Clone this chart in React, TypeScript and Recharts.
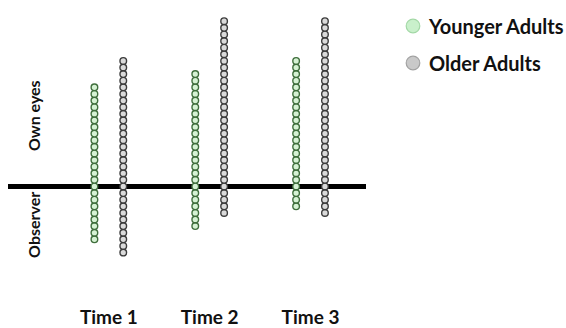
import { Legend, ReferenceLine, Scatter, ScatterChart, XAxis, YAxis } from "recharts";

const times = ["Time 1", "Time 2", "Time 3"];
// dots above the line (own eyes) and below it (observer), one column per group
const youngerOwnEyes = [15, 17, 19];
const youngerObserver = [8, 6, 3];
const olderOwnEyes = [19, 25, 25];
const olderObserver = [10, 4, 4];
const sideLabels = [
  { value: 10.7, text: "Own eyes" },
  { value: -5.8, text: "Observer" },
];

const FONT = "Lato, 'Open Sans', sans-serif";
const SHIFT = 0.143;

const buildColumn = (own: number[], obs: number[], side: number) =>
  own.flatMap((up, i) => {
    const pts: { x: number; y: number }[] = [];
    for (let k = -obs[i]; k <= up; k++) pts.push({ x: i + 1 + side * SHIFT, y: k });
    return pts;
  });

const youngerData = buildColumn(youngerOwnEyes, youngerObserver, -1);
const olderData = buildColumn(olderOwnEyes, olderObserver, 1);

const dot = (fill: string, stroke: string) => (props: any) => (
  <circle cx={props.cx} cy={props.cy} r={3.3} fill={fill} stroke={stroke} strokeWidth={1.4} />
);

const SideTick = (props: any) => {
  const label = sideLabels.find((s) => s.value === props.payload.value);
  return (
    <text
      x={34}
      y={props.y}
      transform={`rotate(-90, 34, ${props.y})`}
      textAnchor="middle"
      dominantBaseline="central"
      fontFamily={FONT}
      fontWeight={700}
      fontSize={16}
      fill="#111"
    >
      {label ? label.text : ""}
    </text>
  );
};

const legendItems = [
  { name: "Younger Adults", fill: "#c9f0cb", stroke: "#a3d8a6" },
  { name: "Older Adults", fill: "#c9c9c9", stroke: "#a2a2a2" },
];

const LegendBox = () => (
  <div style={{ fontFamily: FONT, fontWeight: 700, fontSize: 20, color: "#111" }}>
    {legendItems.map((it) => (
      <div key={it.name} style={{ display: "flex", alignItems: "center", height: 37 }}>
        <svg width={16} height={16} style={{ marginRight: 8 }}>
          <circle cx={8} cy={8} r={6.8} fill={it.fill} stroke={it.stroke} strokeWidth={1.2} />
        </svg>
        <span>{it.name}</span>
      </div>
    ))}
  </div>
);

export default function App() {
  return (
    <div style={{ position: "absolute", left: 0, top: 0, background: "#fff" }}>
      <ScatterChart width={566} height={328} margin={{ top: 8, right: 200, bottom: 0, left: 0 }}>
        <XAxis
          type="number"
          dataKey="x"
          domain={[0, 3.55]}
          ticks={[1, 2, 3]}
          tickFormatter={(v) => times[v - 1]}
          axisLine={false}
          tickLine={false}
          tickMargin={26}
          height={49}
          tick={{ fontFamily: FONT, fontWeight: 700, fontSize: 19, fill: "#111" }}
        />
        <YAxis
          type="number"
          dataKey="y"
          domain={[-14, 27]}
          ticks={sideLabels.map((s) => s.value)}
          width={8}
          axisLine={false}
          tickLine={false}
          tick={<SideTick />}
        />
        <Scatter data={youngerData} shape={dot("#d6f2d4", "#3f6e3c")} isAnimationActive={false} />
        <Scatter data={olderData} shape={dot("#dadada", "#3c3c3c")} isAnimationActive={false} />
        <ReferenceLine y={0} stroke="#000" strokeWidth={5} />
        <Legend
          layout="horizontal"
          verticalAlign="middle"
          align="center"
          content={<LegendBox />}
          wrapperStyle={{ left: 405, top: 7, width: 161 }}
        />
      </ScatterChart>
    </div>
  );
}
